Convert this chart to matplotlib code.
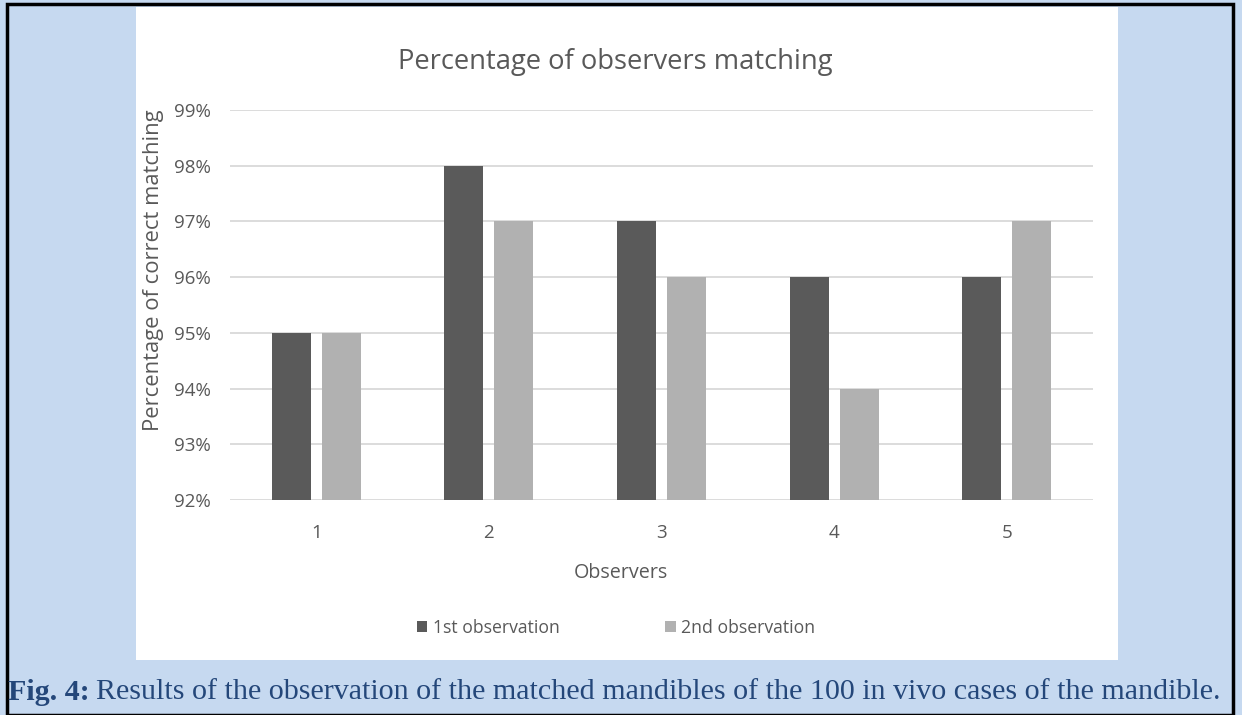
import matplotlib
matplotlib.use("Agg")
import matplotlib.pyplot as plt
import numpy as np
from matplotlib.patches import Rectangle

categories = ["1", "2", "3", "4", "5"]
first_obs = [95, 98, 97, 96, 96]
second_obs = [95, 97, 96, 94, 97]
y_ticks = [92, 93, 94, 95, 96, 97, 98, 99]
y_tick_labels = ["92%", "93%", "94%", "95%", "96%", "97%", "98%", "99%"]
series_names = ["1st observation", "2nd observation"]

W, H = 1242, 715
fig = plt.figure(figsize=(W / 100, H / 100), dpi=100)
fig.patch.set_facecolor("#c6d9f0")

# black border
fig.patches.append(Rectangle((7 / W, 0), (1233 - 7) / W, 1 - 4 / H, transform=fig.transFigure,
                             fill=False, edgecolor="black", linewidth=2.5, zorder=0))
# white chart panel
fig.patches.append(Rectangle((136 / W, 1 - 660 / H), (1118 - 136) / W, (660 - 7) / H,
                             transform=fig.transFigure, facecolor="white", edgecolor="none", zorder=1))

FONT = ["Open Sans", "DejaVu Sans"]
TXT = "#595959"

ax_left, ax_right = 230, 1093
ax_top, ax_bot = 110, 500
ax = fig.add_axes([ax_left / W, 1 - ax_bot / H, (ax_right - ax_left) / W, (ax_bot - ax_top) / H])
ax.set_facecolor("none")
ax.set_zorder(2)

x = np.arange(len(categories))
bw = 0.226
off = 0.145
ax.bar(x - off, np.array(first_obs) - 92, bottom=92, width=bw, color="#5a5a5a", label=series_names[0], zorder=3)
ax.bar(x + off, np.array(second_obs) - 92, bottom=92, width=bw, color="#b1b1b1", label=series_names[1], zorder=3)

ax.set_xlim(-0.5, len(categories) - 0.5)
ax.set_ylim(92, 99)
ax.set_yticks(y_ticks)
ax.set_yticklabels(y_tick_labels, fontsize=13.5, color=TXT, family=FONT)
ax.set_xticks(x)
ax.set_xticklabels(categories, fontsize=13.5, color=TXT, family=FONT)
ax.tick_params(axis="both", length=0)
ax.tick_params(axis="y", pad=14)
ax.tick_params(axis="x", pad=17)
ax.yaxis.grid(True, color="#d9d9d9", linewidth=1.3, zorder=0)
ax.set_axisbelow(True)
for s in ax.spines.values():
    s.set_visible(False)

fig.text(621 / W, 1 - 573 / H, "Observers", ha="center", va="center",
         fontsize=14.2, color=TXT, family=FONT, zorder=5)
fig.text(153 / W, 1 - 270 / H, "Percentage of correct matching", ha="center", va="center", rotation=90,
         fontsize=15.8, color=TXT, family=FONT, zorder=5)

fig.text(615 / W, 1 - 62 / H, "Percentage of observers matching", ha="center", va="center",
         fontsize=19.7, color=TXT, family=FONT, zorder=5)

leg = ax.legend(loc="center", bbox_to_anchor=((616 - ax_left) / (ax_right - ax_left), -(628 - ax_bot) / (ax_bot - ax_top)),
                ncol=2, frameon=False, prop={"family": FONT, "size": 12.7}, handlelength=0.6, handleheight=0.6,
                handletextpad=0.3, columnspacing=6.0, labelcolor=TXT)

# caption
fs = 21.6
col = "#24477a"
t1 = fig.text(8 / W, 1 - 692 / H, "Fig. 4:", fontsize=fs, fontweight="bold", family="Liberation Serif",
              color=col, va="center", ha="left", zorder=5)
fig.canvas.draw()
r = fig.canvas.get_renderer()
bb = t1.get_window_extent(renderer=r)
fig.text(bb.x1 / W + 6 / W, 1 - 692 / H,
         "Results of the observation of the matched mandibles of the 100 in vivo cases of the mandible.",
         fontsize=fs, family="Liberation Serif", color=col, va="center", ha="left", zorder=5)

fig.savefig("out.png", dpi=100, facecolor=fig.get_facecolor())
